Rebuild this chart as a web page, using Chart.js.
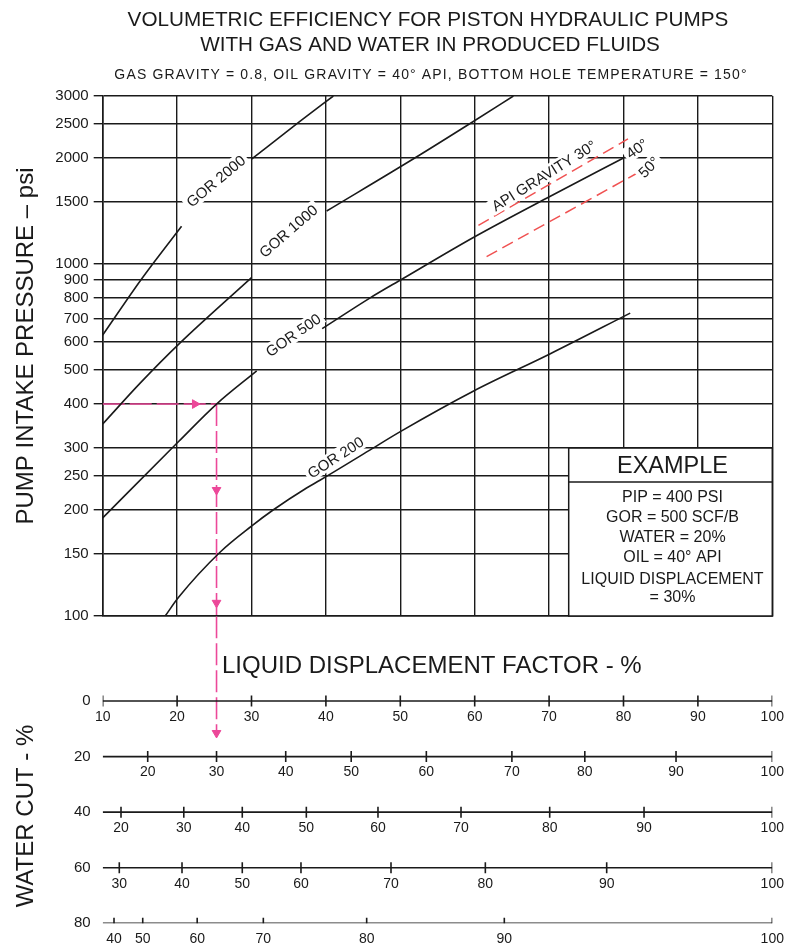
<!DOCTYPE html>
<html>
<head>
<meta charset="utf-8">
<script src="https://cdn.jsdelivr.net/npm/chart.js@4.4.1/dist/chart.umd.min.js"></script>
<style>
  html, body { margin: 0; padding: 0; background: #fff; }
  #wrap { position: relative; width: 787px; height: 946px; }
  #wrap canvas { position: absolute; left: 0; top: 0; }
</style>
</head>
<body>
<div id="wrap">
  <canvas id="pressureChart" width="787" height="946"></canvas>
  <canvas id="cutChart" width="787" height="946"></canvas>
</div>
<script>
// pump intake pressure grid (psi)
const pressureTicks = [100, 150, 200, 250, 300, 400, 500, 600, 700, 800, 900, 1000, 1500, 2000, 2500, 3000];

// GOR curves: liquid displacement factor (%) at 0% water cut vs intake pressure (psi)
// null marks where the curve is broken for its label
const gor2000Disp = [10, 15.2, 20.6, 25, 30, 36.5, 41];
const gor2000Pip = [628, 905, 1280, null, 1984, 2540, 3000];

const gor1000Disp = [10, 15, 20.4, 30, 35, 40.1, 52, 59.6, 65.2];
const gor1000Pip = [351, 458, 597, 915, null, 1414, 2003, 2523, 3000];

const gor500Disp = [10, 20.2, 25.3, 30.7, 35, 39.5, 45.9, 50.2, 60, 70.1, 80];
const gor500Pip = [190, 313, 400, 497, null, 655, 800, 905, 1195, 1555, 2000];

const gor200Disp = [18.4, 20.2, 25.8, 30, 32.9, 37.4, 39.2, 45.9, 50, 59.8, 70.1, 80.9];
const gor200Pip = [100, 113, 152, 180, 200, 231, 243, 296, 334, 435, 555, 725];

// API gravity correction lines (30 and 50 degrees)
const api30Disp = [60.5, 80.6];
const api30Pip = [1287, 2265];
const api50Disp = [61.6, 81.8];
const api50Pip = [1049, 1810];

// worked example
const examplePip = 400;
const exampleDisp = 25.3;
const exampleArrowRightDisp = [22.4];
const exampleArrowDownPip = [228, 109];
const exampleArrowCut = 11.5;

// water cut scales: tick labels and where they sit on the 0% scale
const waterCuts = [0, 20, 40, 60, 80];
const cutTickLabels = [
  [10, 20, 30, 40, 50, 60, 70, 80, 90, 100],
  [20, 30, 40, 50, 60, 70, 80, 90, 100],
  [20, 30, 40, 50, 60, 70, 80, 90, 100],
  [30, 40, 50, 60, 70, 80, 90, 100],
  [40, 50, 60, 70, 80, 90, 100]
];
const cutTickDisp = [
  [10, 20, 30, 40, 50, 60, 70, 80, 90, 100],
  [16.05, 25.3, 34.6, 43.4, 53.5, 65.0, 74.8, 87.06, 100],
  [12.46, 20.9, 28.76, 37.37, 47.0, 58.16, 70.08, 82.76, 100],
  [12.23, 20.66, 28.76, 36.65, 48.75, 61.43, 77.74, 100],
  [11.52, 15.38, 22.7, 31.59, 45.48, 63.98, 100]
];

const exampleLines = ['PIP = 400 PSI', 'GOR = 500 SCF/B', 'WATER = 20%', 'OIL = 40° API', 'LIQUID DISPLACEMENT', '= 30%'];

const INK = '#1a1a1a';
const PINK = '#ec4899';
const RED = '#f05252';
const FONT = '"Liberation Sans", Arial, Helvetica, sans-serif';

Chart.defaults.font.family = FONT;
Chart.defaults.color = INK;

const toPoints = (xs, ys) => xs.map((x, i) => ({ x: x, y: ys[i] }));

const curveStyle = {
  showLine: true,
  borderColor: INK,
  borderWidth: 1.6,
  pointRadius: 0,
  cubicInterpolationMode: 'monotone',
  spanGaps: false
};

const curveLabels = [
  { text: 'GOR 2000', d: 25.2, p: 1719, angle: -40 },
  { text: 'GOR 1000', d: 34.95, p: 1240, angle: -41 },
  { text: 'GOR 500', d: 35.6, p: 628, angle: -35 },
  { text: 'GOR 200', d: 41.3, p: 282, angle: -33 },
  { text: 'API GRAVITY 30°', d: 69.3, p: 1782, angle: -32 },
  { text: '40°', d: 81.8, p: 2127, angle: -35 },
  { text: '50°', d: 83.4, p: 1885, angle: -45 }
];

function rotatedText(ctx, text, x, y, angle, font) {
  ctx.save();
  ctx.translate(x, y);
  ctx.rotate(angle * Math.PI / 180);
  ctx.font = font;
  const w = ctx.measureText(text).width;
  // blank the grid behind the label
  ctx.fillStyle = '#fff';
  ctx.fillRect(-w / 2 - 3, -8, w + 6, 16);
  ctx.fillStyle = INK;
  ctx.textAlign = 'center';
  ctx.textBaseline = 'middle';
  ctx.fillText(text, 0, 1);
  ctx.restore();
}

const pressureDecor = {
  id: 'pressureDecor',
  afterDatasetsDraw(chart) {
    const ctx = chart.ctx;
    const xs = chart.scales.x, ys = chart.scales.y;
    const area = chart.chartArea;

    curveLabels.forEach(l => {
      rotatedText(ctx, l.text, xs.getPixelForValue(l.d), ys.getPixelForValue(l.p), l.angle, '15px ' + FONT);
    });

    // example box in the lower right corner
    const left = area.right - 203.6;
    const top = ys.getPixelForValue(300);
    const cx = (left + area.right) / 2 + 2;
    ctx.save();
    ctx.fillStyle = '#fff';
    ctx.fillRect(left, top, area.right - left, area.bottom - top);
    ctx.strokeStyle = INK;
    ctx.lineWidth = 1.5;
    ctx.strokeRect(left, top, area.right - left, area.bottom - top);
    ctx.beginPath();
    ctx.moveTo(left, top + 34);
    ctx.lineTo(area.right, top + 34);
    ctx.stroke();
    ctx.fillStyle = INK;
    ctx.textAlign = 'center';
    ctx.textBaseline = 'middle';
    ctx.font = '23.5px ' + FONT;
    ctx.fillText('EXAMPLE', cx, top + 18);
    ctx.font = '16px ' + FONT;
    const offs = [50, 70, 89.5, 109.5, 132, 150];
    exampleLines.forEach((t, i) => ctx.fillText(t, cx, top + offs[i]));
    ctx.restore();
  },
  afterDraw(chart) {
    const ctx = chart.ctx;
    ctx.save();
    ctx.fillStyle = INK;
    ctx.textAlign = 'center';
    ctx.textBaseline = 'middle';
    ctx.font = '20.7px ' + FONT;
    ctx.fillText('VOLUMETRIC EFFICIENCY FOR PISTON HYDRAULIC PUMPS', 428, 20);
    ctx.fillText('WITH GAS AND WATER IN PRODUCED FLUIDS', 430, 45);
    ctx.font = '14px ' + FONT;
    ctx.letterSpacing = '1.15px';
    ctx.fillText('GAS GRAVITY = 0.8, OIL GRAVITY = 40° API, BOTTOM HOLE TEMPERATURE = 150°', 431, 75);
    ctx.letterSpacing = '0px';
    ctx.translate(33, 346);
    ctx.rotate(-Math.PI / 2);
    ctx.textBaseline = 'alphabetic';
    ctx.font = '24px ' + FONT;
    ctx.fillText('PUMP INTAKE PRESSURE – psi', 0, 0);
    ctx.restore();
  }
};

new Chart(document.getElementById('pressureChart'), {
  type: 'scatter',
  data: {
    datasets: [
      { ...curveStyle, data: toPoints(gor2000Disp, gor2000Pip) },
      { ...curveStyle, data: toPoints(gor1000Disp, gor1000Pip) },
      { ...curveStyle, data: toPoints(gor500Disp, gor500Pip) },
      { ...curveStyle, data: toPoints(gor200Disp, gor200Pip) },
      { showLine: true, borderColor: RED, borderWidth: 1.5, borderDash: [12, 6], pointRadius: 0, data: toPoints(api30Disp, api30Pip) },
      { showLine: true, borderColor: RED, borderWidth: 1.5, borderDash: [12, 6], pointRadius: 0, data: toPoints(api50Disp, api50Pip) },
      {
        showLine: true, borderColor: PINK, borderWidth: 1.6, borderDash: [22, 5], pointRadius: 0,
        data: [{ x: 10, y: examplePip }, { x: exampleDisp, y: examplePip }]
      },
      {
        showLine: true, borderColor: PINK, borderWidth: 1.6, borderDash: [22, 5], pointRadius: 0,
        data: [{ x: exampleDisp, y: examplePip }, { x: exampleDisp, y: 100 }]
      },
      {
        pointStyle: 'triangle', pointRadius: 5, pointRotation: 90,
        backgroundColor: PINK, borderColor: PINK, borderWidth: 1,
        data: exampleArrowRightDisp.map(d => ({ x: d, y: examplePip }))
      },
      {
        pointStyle: 'triangle', pointRadius: 5, pointRotation: 180,
        backgroundColor: PINK, borderColor: PINK, borderWidth: 1,
        data: exampleArrowDownPip.map(p => ({ x: exampleDisp, y: p }))
      }
    ]
  },
  options: {
    responsive: false,
    animation: false,
    events: [],
    layout: { padding: { top: 96, right: 14.7, bottom: 330, left: 0 } },
    plugins: { legend: { display: false }, tooltip: { enabled: false } },
    scales: {
      x: {
        type: 'linear', min: 10, max: 100,
        ticks: { display: false, stepSize: 10 },
        grid: { color: INK, lineWidth: 1.4, drawTicks: false },
        border: { color: INK, width: 1.6 },
        afterFit: s => { s.height = 0; }
      },
      y: {
        type: 'logarithmic', min: 100, max: 3000,
        afterBuildTicks: s => { s.ticks = pressureTicks.map(v => ({ value: v })); },
        ticks: { callback: v => String(v), font: { size: 15 }, color: INK, padding: 5 },
        grid: { color: INK, lineWidth: 1.4, tickLength: 9 },
        border: { color: INK, width: 1.6 },
        afterFit: s => { s.width = 102.7; }
      }
    }
  },
  plugins: [pressureDecor]
});

// ---- water cut nomogram ----
const rowLines = waterCuts.map(c => ({
  showLine: true, borderColor: INK, borderWidth: 1.6, pointRadius: 0,
  data: [{ x: 10, y: c }, { x: 100, y: c }]
}));
const rowTicks = waterCuts.map((c, i) => ({
  pointStyle: 'line', pointRadius: 5.5, pointRotation: 90,
  borderColor: INK, borderWidth: 1.6,
  data: cutTickDisp[i].map(d => ({ x: d, y: c }))
}));

const cutDecor = {
  id: 'cutDecor',
  afterDatasetsDraw(chart) {
    const ctx = chart.ctx;
    const xs = chart.scales.x, ys = chart.scales.y;
    ctx.save();
    ctx.fillStyle = INK;
    ctx.textAlign = 'center';
    ctx.textBaseline = 'middle';
    ctx.font = '14px ' + FONT;
    waterCuts.forEach((c, i) => {
      const y = ys.getPixelForValue(c) + 16;
      cutTickLabels[i].forEach((lab, j) => {
        ctx.fillText(String(lab), xs.getPixelForValue(cutTickDisp[i][j]), y);
      });
    });
    ctx.textAlign = 'left';
    ctx.font = '24px ' + FONT;
    ctx.fillText('LIQUID DISPLACEMENT FACTOR - %', 222, 666);
    ctx.translate(33, 816);
    ctx.rotate(-Math.PI / 2);
    ctx.textAlign = 'center';
    ctx.textBaseline = 'alphabetic';
    ctx.font = '24px ' + FONT;
    ctx.fillText('WATER CUT - %', 0, 0);
    ctx.restore();
  }
};

new Chart(document.getElementById('cutChart'), {
  type: 'scatter',
  data: {
    datasets: [
      ...rowLines,
      ...rowTicks,
      {
        showLine: true, borderColor: PINK, borderWidth: 1.6, borderDash: [22, 5], pointRadius: 0,
        data: [{ x: exampleDisp, y: -30.5 }, { x: exampleDisp, y: exampleArrowCut }]
      },
      {
        pointStyle: 'triangle', pointRadius: 5, pointRotation: 180,
        backgroundColor: PINK, borderColor: PINK, borderWidth: 1,
        data: [{ x: exampleDisp, y: exampleArrowCut }]
      }
    ]
  },
  options: {
    responsive: false,
    animation: false,
    events: [],
    layout: { padding: { top: 616.3, right: 14.7, bottom: 22.7, left: 0 } },
    plugins: { legend: { display: false }, tooltip: { enabled: false } },
    scales: {
      x: { type: 'linear', min: 10, max: 100, display: false },
      y: {
        type: 'linear', reverse: true, min: -30.5, max: 80,
        afterBuildTicks: s => { s.ticks = waterCuts.map(v => ({ value: v })); },
        ticks: { callback: v => String(v), font: { size: 15 }, color: INK, padding: 12 },
        grid: { display: false, drawTicks: false },
        border: { display: false },
        afterFit: s => { s.width = 102.7; }
      }
    }
  },
  plugins: [cutDecor]
});
</script>
</body>
</html>
